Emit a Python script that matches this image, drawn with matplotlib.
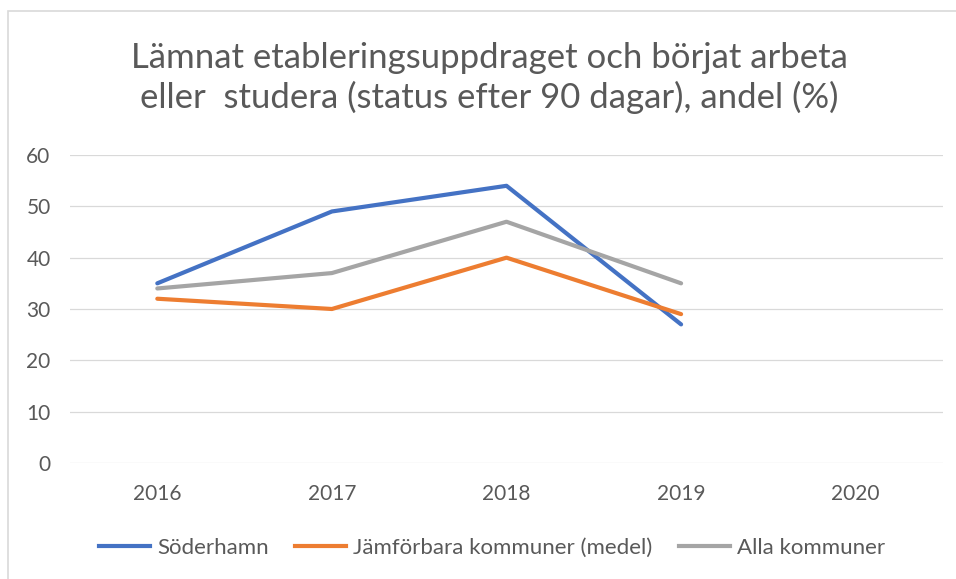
import matplotlib.pyplot as plt
from matplotlib.lines import Line2D

# ── data ──────────────────────────────────────────────
years = ["2016", "2017", "2018", "2019", "2020"]
soderhamn = [35, 49, 54, 27]
jamforbara = [32, 30, 40, 29]
alla = [34, 37, 47, 35]

series_names = ["Söderhamn", "Jämförbara kommuner (medel)", "Alla kommuner"]
colors = ["#4472C4", "#ED7D31", "#A5A5A5"]

title = ("Lämnat etableringsuppdraget och börjat arbeta\n"
         "eller  studera (status efter 90 dagar), andel (%)")

plt.rcParams["font.family"] = ["Lato", "DejaVu Sans"]

W, H = 956, 579
fig = plt.figure(figsize=(W / 100, H / 100), dpi=100, facecolor="white")

# plot area in pixels: x 70..943, y 155..463
ax = fig.add_axes([70 / W, 1 - 463 / H, (943 - 70) / W, (463 - 155) / H])

x = list(range(len(years)))
for vals, c in zip([soderhamn, jamforbara, alla], colors):
    ax.plot(x[:len(vals)], vals, color=c, linewidth=3.0, solid_capstyle="round",
            solid_joinstyle="round", zorder=3)

ax.set_xlim(-0.5, len(years) - 0.5)
ax.set_ylim(0, 60)
ax.set_yticks(range(0, 61, 10))
ax.set_xticks(x)
ax.set_xticklabels(years)
ax.grid(axis="y", color="#D9D9D9", linewidth=0.9)
ax.set_axisbelow(True)
for s in ax.spines.values():
    s.set_visible(False)
ax.tick_params(axis="both", length=0, labelsize=15, labelcolor="#595959")
ax.tick_params(axis="y", pad=14)
ax.tick_params(axis="x", pad=15)

fig.text(489 / W, 1 - 78 / H, title, ha="center", va="center", fontsize=25,
         color="#595959", linespacing=1.25)

handles = [Line2D([], [], color=c, linewidth=3.0) for c in colors]
leg = fig.legend(handles, series_names, loc="center", ncol=3,
                 bbox_to_anchor=(492 / W, 1 - 548 / H), frameon=False,
                 fontsize=16, handlelength=2.3, handletextpad=0.3,
                 columnspacing=1.2, labelcolor="#595959")

# outer chart border (top and left visible)
fig.add_artist(plt.Rectangle((8 / W, -0.1), 1.2, 1 - 11 / H + 0.1,
                             transform=fig.transFigure, fill=False,
                             edgecolor="#D9D9D9", linewidth=1.2))

fig.savefig("out.png", dpi=100, facecolor="white")
